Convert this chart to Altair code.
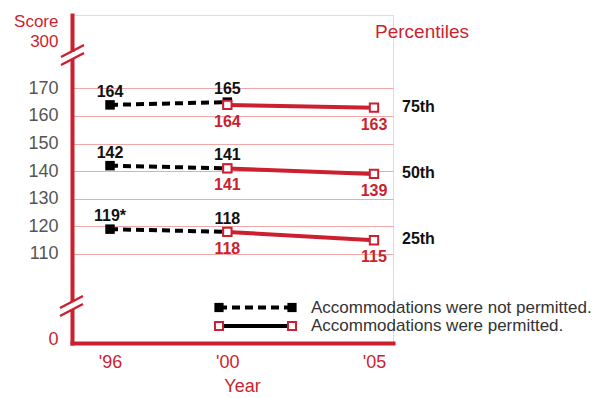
import altair as alt
import pandas as pd

RED = "#cc1f2f"
FONT = "Liberation Sans"

# ---- data ----
percentiles = ["75th", "50th", "25th"]
years_not_permitted = [1996, 2000]
years_permitted = [2000, 2005]
scores_not_permitted = {"75th": [164, 165], "50th": [142, 141], "25th": [119, 118]}
labels_not_permitted = {"75th": ["164", "165"], "50th": ["142", "141"], "25th": ["119*", "118"]}
scores_permitted = {"75th": [164, 163], "50th": [141, 139], "25th": [118, 115]}
labels_permitted = {"75th": ["164", "163"], "50th": ["141", "139"], "25th": ["118", "115"]}
year_ticks = [1996, 2000, 2005]
score_ticks = [110, 120, 130, 140, 150, 160, 170]
# broken axis: positions on the scale where the "0" and "300" labels sit
ZERO_POS = 78.9
TOP_POS = 187.0

rows_np = []
for p in percentiles:
    for yr, s, lab in zip(years_not_permitted, scores_not_permitted[p], labels_not_permitted[p]):
        rows_np.append({"year": yr, "score": s, "label": lab, "pct": p})
df_np = pd.DataFrame(rows_np)

rows_p = []
for p in percentiles:
    for yr, s, lab in zip(years_permitted, scores_permitted[p], labels_permitted[p]):
        rows_p.append({"year": yr, "score": s, "label": lab, "pct": p})
df_p = pd.DataFrame(rows_p)
df_right = df_p[df_p["year"] == 2005]

W, H = 321, 328
one = pd.DataFrame({"a": [0]})

xscale = alt.Scale(domain=[1994.704, 2005.648], nice=False, zero=False)
yscale = alt.Scale(domain=[77.77, 196.55], nice=False, zero=False)

y_vals = [ZERO_POS] + score_ticks + [TOP_POS]
outside = "datum.value < 100 || datum.value > 180"

xaxis = alt.Axis(
    values=year_ticks, labelExpr="\"'\" + substring(toString(datum.value), 2)",
    ticks=False, tickSize=0, grid=False, domainColor=RED, domainWidth=4, domainCap="square",
    labelColor=RED, labelFontSize=18, labelFont=FONT, labelPadding=10, labelFlush=False,
    title="Year", titleColor=RED, titleFontSize=18, titleFont=FONT, titleFontWeight="normal",
    titleX=170, titleY=43, titleBaseline="middle", zindex=0,
)
yaxis = alt.Axis(
    values=y_vals,
    labelExpr="datum.value < 100 ? '0' : (datum.value > 180 ? '300' : format(datum.value, 'd'))",
    ticks=False, tickSize=0, domainColor=RED, domainWidth=4, domainCap="square",
    labelColor={"condition": {"test": outside, "value": RED}, "value": "#555555"},
    labelFontSize={"condition": {"test": "datum.value > 180", "value": 17}, "value": 18},
    labelFont=FONT, labelPadding=14, labelOverlap=False, labelFlush=False,
    grid=True, gridColor="#f0a8a8", gridWidth=1,
    gridOpacity={"condition": {"test": outside, "value": 0}, "value": 1},
    title="Score", titleColor=RED, titleFontSize=17, titleFont=FONT, titleFontWeight="normal",
    titleAngle=0, titleAlign="right", titleBaseline="middle", titleX=-14, titleY=6, zindex=0,
)

X = alt.X("year:Q", scale=xscale, axis=xaxis)
Y = alt.Y("score:Q", scale=yscale, axis=yaxis)

line_np = alt.Chart(df_np).mark_line(color="black", strokeWidth=4, strokeDash=[8, 5]).encode(
    x=X, y=Y, detail="pct:N")
pts_np = alt.Chart(df_np).mark_square(color="black", size=90, opacity=1).encode(x=X, y=Y)
line_p = alt.Chart(df_p).mark_line(color=RED, strokeWidth=4).encode(x=X, y=Y, detail="pct:N")
pts_p = alt.Chart(df_p).mark_point(shape="square", filled=True, fill="white", stroke=RED,
                                   strokeWidth=2, size=70, opacity=1).encode(x=X, y=Y)
txt_np = alt.Chart(df_np).mark_text(dy=-13, fontSize=16, fontWeight="bold", font=FONT,
                                    color="#111111").encode(x=X, y=Y, text="label:N")
txt_p = alt.Chart(df_p).mark_text(dy=17, fontSize=16, fontWeight="bold", font=FONT,
                                  color=RED).encode(x=X, y=Y, text="label:N")
txt_right = alt.Chart(df_right).mark_text(dx=28, dy=-1, align="left", fontSize=16,
                                          fontWeight="bold", font=FONT, color="#111111").encode(
    x=X, y=Y, text="pct:N")


def seg(x1, y1, x2, y2, color, width, dash=None):
    kw = dict(color=color, strokeWidth=width)
    if dash:
        kw["strokeDash"] = dash
    return alt.Chart(one).mark_rule(**kw).encode(
        x=alt.value(x1 - 72), x2=alt.value(x2 - 72), y=alt.value(y1 - 15), y2=alt.value(y2 - 15))


def sq(x, y, filled):
    if filled:
        m = alt.Chart(one).mark_square(color="black", size=85, opacity=1)
    else:
        m = alt.Chart(one).mark_point(shape="square", filled=True, fill="white", stroke=RED,
                                      strokeWidth=2, size=65, opacity=1)
    return m.encode(x=alt.value(x - 72), y=alt.value(y - 15))


def label(x, y, text, color, size, align="left"):
    return alt.Chart(one).mark_text(text=text, color=color, fontSize=size, font=FONT,
                                    align=align, baseline="middle").encode(
        x=alt.value(x - 72), y=alt.value(y - 15))


decor = [
    # axis breaks
    seg(72, 52, 72, 59, "white", 6), seg(61, 57, 84, 45, RED, 2.5), seg(61, 65, 84, 53, RED, 2.5),
    seg(72, 302, 72, 309, "white", 6), seg(60, 308, 83, 296, RED, 2.5), seg(60, 316, 83, 304, RED, 2.5),
    # legend
    seg(219, 307.5, 292, 307.5, "black", 4, [8, 5]), sq(219, 307.5, True), sq(292, 307.5, True),
    seg(219, 326, 292, 326, "black", 4), sq(219, 326, False), sq(292, 326, False),
    label(311, 307.5, "Accommodations were not permitted.", "#333333", 17),
    label(311, 326, "Accommodations were permitted.", "#333333", 17),
    label(422, 32, "Percentiles", RED, 19, "center"),
]

chart = alt.layer(line_np, pts_np, line_p, pts_p, txt_np, txt_p, txt_right, *decor).properties(
    width=W, height=H,
    autosize=alt.AutoSizeParams(type="none"),
    padding={"left": 72, "top": 15, "right": 593 - 72 - W, "bottom": 398 - 15 - H},
).configure_view(stroke=None).configure(font=FONT)

chart.save("out.html", embed_options={"renderer": "svg", "actions": False})
